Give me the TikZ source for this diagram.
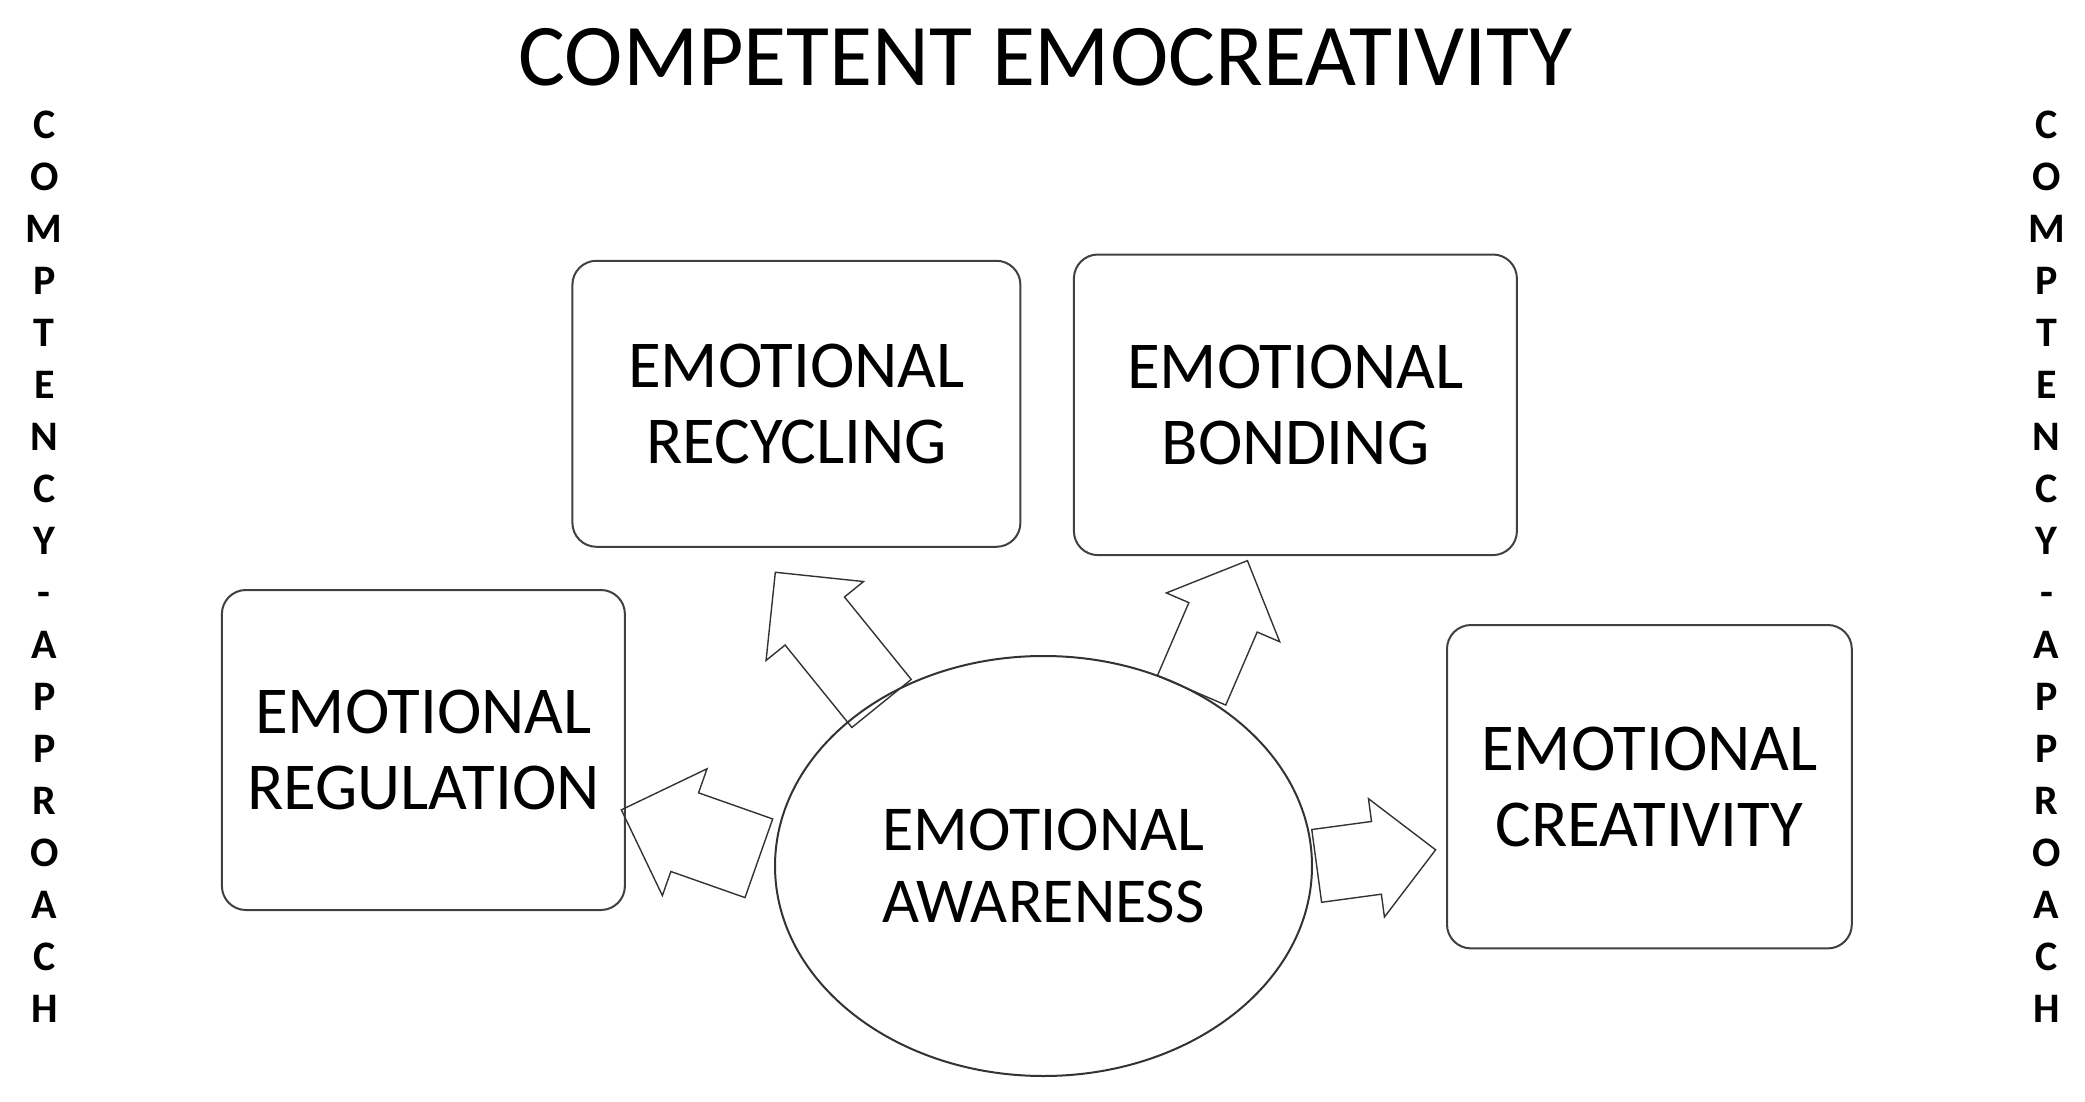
\documentclass[tikz,border=0pt]{standalone}
\usepackage{fontspec}
\setmainfont{Carlito}
\usetikzlibrary{positioning,shapes.geometric,shapes.arrows}
\tikzset{
    emodiagram/.style={
        x=0.5pt, y=-0.5pt,
        % Stile per le competenze (rettangolo arrotondato)
        compbox/.style={draw=black!75, line width=1pt, rectangle,
                        rounded corners=12pt, align=center, inner sep=0pt,
                        font=\fontsize{33.5}{38}\selectfont},
        % Stile per il nucleo (ellisse)
        core/.style={draw=black!80, line width=1pt, ellipse, align=center,
                     inner sep=0pt, minimum width=268.5pt, minimum height=210pt,
                     font=\fontsize{32}{36}\selectfont},
        % Stile per le frecce a blocco
        blockarrow/.style={draw=black!80, line width=0.7pt, single arrow,
                           single arrow tip angle=90, inner xsep=0pt,
                           anchor=tail},
        % Stile per le scritte laterali (verticali)
        sidetext/.style={align=center, inner sep=0pt,
                         font=\fontsize{21}{26}\selectfont\bfseries},
        % Stile per il titolo
        maintitle/.style={inner sep=0pt, font=\fontsize{44}{50}\selectfont}
    }
}
\begin{document}
\begin{tikzpicture}[emodiagram]
        \useasboundingbox (0,0) rectangle (2085,1102);
        \node[maintitle] (title) at (1045.4,57.3) {COMPETENT EMOCREATIVITY};
        \node[sidetext] (leftside) at (44.3,566.8)
          {C\\O\\M\\P\\T\\E\\N\\C\\Y\\-\\A\\P\\P\\R\\O\\A\\C\\H};
        \node[sidetext] (rightside) at (2046.7,566.8)
          {C\\O\\M\\P\\T\\E\\N\\C\\Y\\-\\A\\P\\P\\R\\O\\A\\C\\H};
        \node[compbox, minimum width=224pt, minimum height=143pt]
          (recycling) at (796.4,403.8) {EMOTIONAL\\RECYCLING};
        \node[compbox, minimum width=221.5pt, minimum height=150.3pt]
          (bonding) at (1295.4,404.8) {EMOTIONAL\\BONDING};
        \node[compbox, minimum width=201.5pt, minimum height=160pt]
          (regulation) at (423.4,750) {EMOTIONAL\\REGULATION};
        \node[compbox, minimum width=202.4pt, minimum height=161.7pt]
          (creativity) at (1649.4,786.7) {EMOTIONAL\\CREATIVITY};
        \coordinate (recbase) at (882,704);
        \coordinate (bondbase) at (1191.3,691);
        \coordinate (regbase) at (759.5,858.5);
        \coordinate (creabase) at (1316,866);
        \node[blockarrow, rotate=129, minimum height=84.4pt, minimum width=62pt,
              inner ysep=18.75pt, single arrow head extend=12.25pt] (torec) at (recbase) {};
        \node[blockarrow, rotate=66.7, minimum height=70.6pt, minimum width=61pt,
              inner ysep=18.25pt, single arrow head extend=12.25pt] (tobond) at (bondbase) {};
        \node[blockarrow, rotate=160.6, minimum height=72.9pt, minimum width=66.5pt,
              inner ysep=20.5pt, single arrow head extend=12.75pt] (toreg) at (regbase) {};
        \node[blockarrow, rotate=7.7, minimum height=60pt, minimum width=59pt,
              inner ysep=18pt, single arrow head extend=11.5pt] (tocrea) at (creabase) {};
        \node[core] (awareness) at (1043.5,866) {EMOTIONAL\\AWARENESS};
    \end{tikzpicture}
\end{document}
